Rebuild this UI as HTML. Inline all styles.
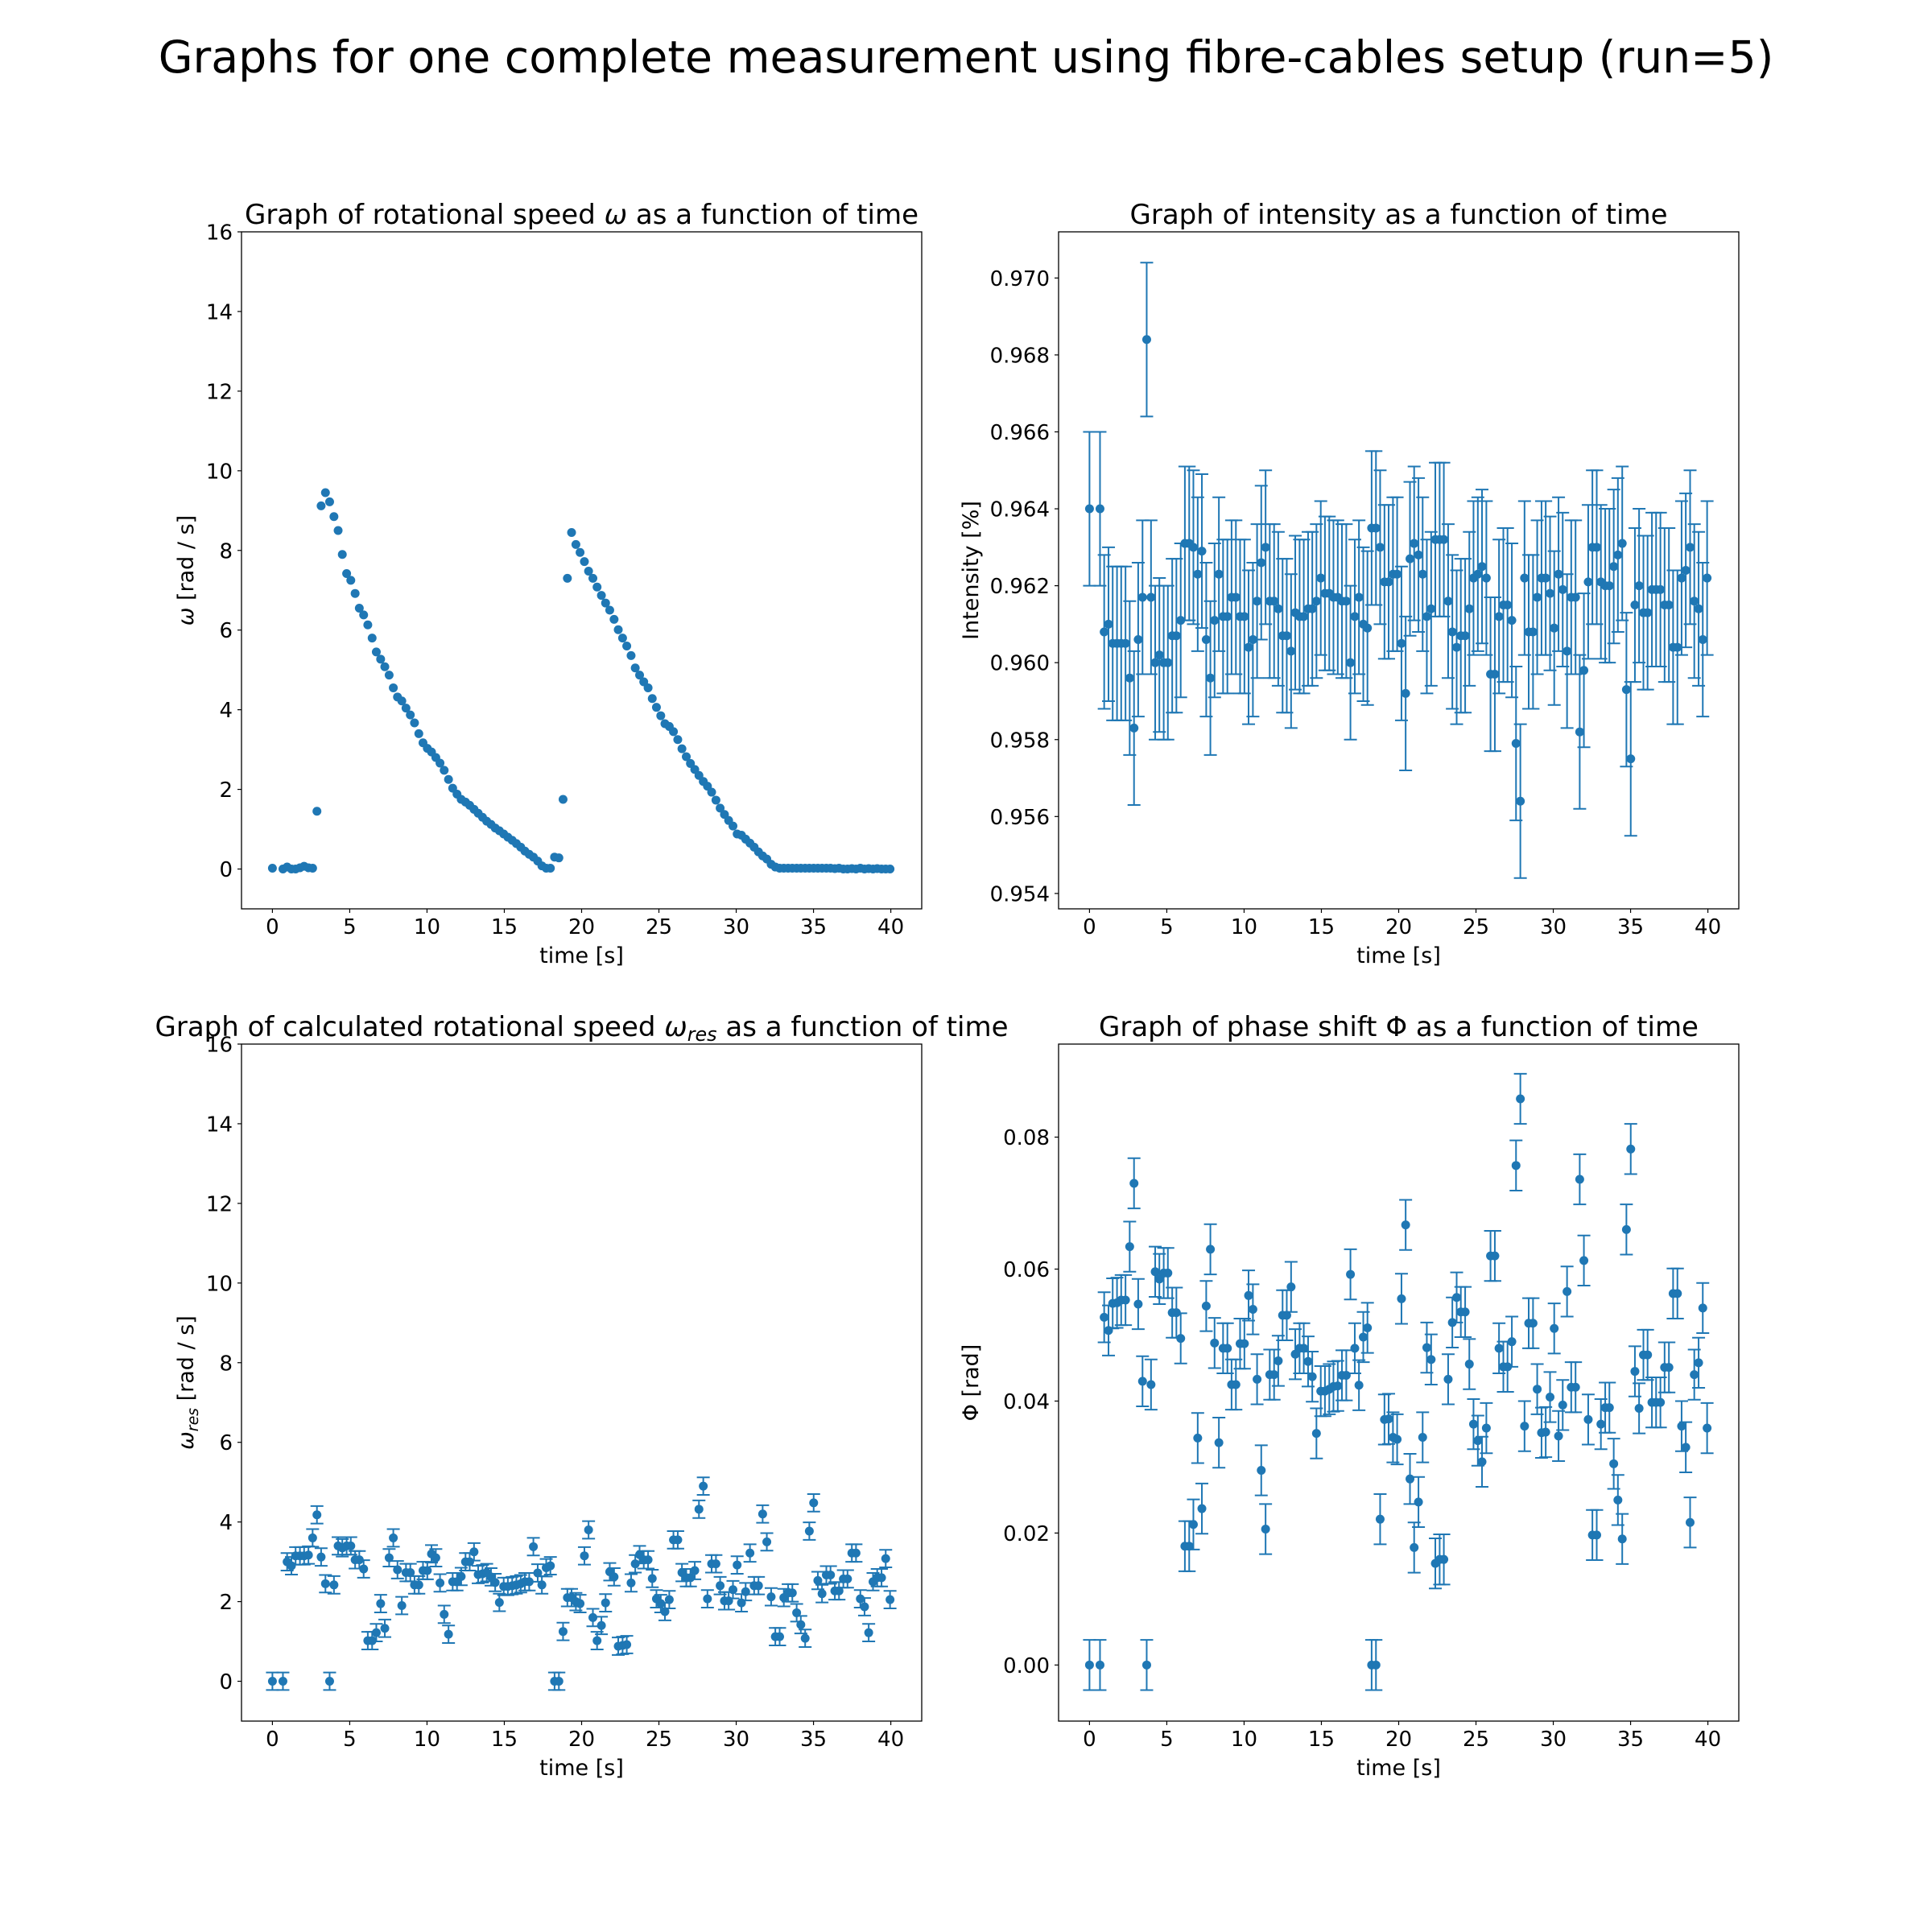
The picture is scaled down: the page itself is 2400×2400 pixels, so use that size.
<!DOCTYPE html>
<html><head><meta charset="utf-8"><style>
html,body{margin:0;padding:0;background:#fff}
svg{display:block;font-family:"DejaVu Sans","Liberation Sans",sans-serif}
</style></head><body>
<svg id="fig" width="2400" height="2400" viewBox="0 0 2400 2400" xmlns="http://www.w3.org/2000/svg">
<rect width="2400" height="2400" fill="#fff"/>
<text x="1200" y="90" text-anchor="middle" font-size="55.3">Graphs for one complete measurement using fibre-cables setup (run=5)</text>
</svg>
<script>
const times=[0,0.68,0.95,1.23,1.50,1.78,2.05,2.33,2.60,2.88,3.15,3.43,3.70,3.98,4.25,4.52,4.80,5.07,5.35,5.62,5.90,6.17,6.45,6.72,7.00,7.27,7.55,7.82,8.09,8.37,8.64,8.92,9.19,9.47,9.74,10.02,10.29,10.57,10.84,11.11,11.39,11.66,11.94,12.21,12.49,12.76,13.04,13.31,13.59,13.86,14.14,14.41,14.68,14.96,15.23,15.51,15.78,16.06,16.33,16.61,16.88,17.16,17.43,17.71,17.98,18.25,18.53,18.80,19.08,19.35,19.63,19.90,20.18,20.45,20.73,21.00,21.28,21.55,21.82,22.10,22.37,22.65,22.92,23.20,23.47,23.75,24.02,24.30,24.57,24.84,25.12,25.39,25.67,25.94,26.22,26.49,26.77,27.04,27.32,27.59,27.87,28.14,28.41,28.69,28.96,29.24,29.51,29.79,30.06,30.34,30.61,30.89,31.16,31.44,31.71,31.98,32.26,32.53,32.81,33.08,33.36,33.63,33.91,34.18,34.46,34.73,35.01,35.28,35.55,35.83,36.10,36.38,36.65,36.93,37.20,37.48,37.75,38.03,38.30,38.57,38.85,39.12,39.40,39.67,39.95];
const omega=[0.02,0.0,0.05,0.0,0.0,0.03,0.07,0.03,0.02,1.45,
9.12,9.45,9.22,8.85,8.5,7.9,7.42,7.25,6.92,6.55,
6.38,6.13,5.8,5.45,5.27,5.08,4.87,4.55,4.32,4.22,
4.04,3.87,3.67,3.4,3.17,3.03,2.94,2.8,2.66,2.48,
2.25,2.03,1.88,1.75,1.68,1.6,1.5,1.4,1.3,1.2,
1.12,1.03,0.96,0.88,0.8,0.72,0.64,0.55,0.45,0.37,
0.3,0.2,0.08,0.02,0.02,0.3,0.28,1.75,7.3,8.45,
8.15,7.95,7.72,7.48,7.3,7.08,6.87,6.68,6.5,6.27,
6.01,5.8,5.6,5.36,5.05,4.87,4.7,4.55,4.28,4.06,
3.85,3.65,3.58,3.45,3.25,3.02,2.82,2.65,2.5,2.35,
2.2,2.08,1.93,1.73,1.53,1.37,1.22,1.08,0.88,0.85,
0.75,0.65,0.55,0.43,0.33,0.25,0.12,0.05,0.02,0.02,
0.02,0.02,0.02,0.02,0.02,0.02,0.02,0.02,0.02,0.02,
0.02,0.01,0.02,0.0,0.0,0.01,0.0,0.02,0.0,0.01,
0.0,0.01,0.0,0.0,0.0];
const intensity=[0.9640,0.9640,0.9608,0.9610,0.9605,0.9605,0.9605,0.9605,0.9596,0.9583,
0.9606,0.9617,0.9684,0.9617,0.9600,0.9602,0.9600,0.9600,0.9607,0.9607,
0.9611,0.9631,0.9631,0.9630,0.9623,0.9629,0.9606,0.9596,0.9611,0.9623,
0.9612,0.9612,0.9617,0.9617,0.9612,0.9612,0.9604,0.9606,0.9616,0.9626,
0.9630,0.9616,0.9616,0.9614,0.9607,0.9607,0.9603,0.9613,0.9612,0.9612,
0.9614,0.9614,0.9616,0.9622,0.9618,0.9618,0.9617,0.9617,0.9616,0.9616,
0.9600,0.9612,0.9617,0.9610,0.9609,0.9635,0.9635,0.9630,0.9621,0.9621,
0.9623,0.9623,0.9605,0.9592,0.9627,0.9631,0.9628,0.9623,0.9612,0.9614,
0.9632,0.9632,0.9632,0.9616,0.9608,0.9604,0.9607,0.9607,0.9614,0.9622,
0.9623,0.9625,0.9622,0.9597,0.9597,0.9612,0.9615,0.9615,0.9611,0.9579,
0.9564,0.9622,0.9608,0.9608,0.9617,0.9622,0.9622,0.9618,0.9609,0.9623,
0.9619,0.9603,0.9617,0.9617,0.9582,0.9598,0.9621,0.9630,0.9630,0.9621,
0.9620,0.9620,0.9625,0.9628,0.9631,0.9593,0.9575,0.9615,0.9620,0.9613,
0.9613,0.9619,0.9619,0.9619,0.9615,0.9615,0.9604,0.9604,0.9622,0.9624,
0.9630,0.9616,0.9614,0.9606,0.9622];
const omegaRes=[0,0,3.0,2.9,3.15,3.15,3.15,3.17,3.6,4.18,
3.12,2.45,0,2.42,3.4,3.35,3.4,3.4,3.05,3.05,
2.82,1.02,1.02,1.22,1.95,1.33,3.1,3.6,2.8,1.9,
2.73,2.73,2.42,2.42,2.78,2.78,3.2,3.1,2.47,1.68,
1.18,2.5,2.5,2.63,3.0,3.0,3.25,2.68,2.7,2.73,
2.62,2.48,1.98,2.38,2.38,2.4,2.42,2.45,2.5,2.5,
3.38,2.72,2.42,2.85,2.9,0,0,1.25,2.1,2.1,
2.0,1.95,3.15,3.8,1.6,1.02,1.4,1.97,2.75,2.62,
0.88,0.9,0.92,2.47,2.95,3.18,3.05,3.05,2.58,2.07,
1.95,1.75,2.05,3.55,3.55,2.73,2.6,2.6,2.78,4.32,
4.9,2.07,2.95,2.95,2.4,2.02,2.02,2.3,2.92,1.97,
2.25,3.22,2.4,2.4,4.2,3.5,2.12,1.12,1.12,2.1,
2.22,2.22,1.72,1.42,1.08,3.77,4.48,2.53,2.2,2.67,
2.67,2.27,2.27,2.57,2.57,3.22,3.22,2.07,1.87,1.22,
2.5,2.6,2.6,3.08,2.05];
const phi=[0,0,.0527,.0507,.0548,.0549,.0553,.0553,.0634,.0730,
.0547,.0430,0,.0425,.0596,.0585,.0594,.0594,.0534,.0534,
.0495,.018,.018,.0213,.0344,.0237,.0544,.0630,.0488,.0337,
.0480,.0480,.0425,.0425,.0487,.0487,.0560,.0539,.0433,.0295,
.0206,.0440,.0440,.0461,.0530,.0530,.0573,.0471,.0480,.0480,
.0460,.0437,.0351,.0415,.0415,.0418,.0422,.0423,.0439,.0439,
.0592,.0480,.0424,.0497,.0511,0,0,.0221,.0372,.0373,
.0345,.0342,.0555,.0667,.0282,.0178,.0247,.0345,.0481,.0463,
.0154,.0160,.0160,.0433,.0519,.0557,.0535,.0535,.0456,.0365,
.0340,.0308,.0359,.0620,.0620,.0480,.0452,.0452,.0490,.0757,
.0858,.0362,.0518,.0518,.0418,.0352,.0353,.0406,.0510,.0347,
.0394,.0566,.0421,.0421,.0736,.0613,.0372,.0197,.0197,.0365,
.0390,.0390,.0305,.0250,.0191,.0660,.0782,.0445,.0389,.0470,
.0470,.0398,.0398,.0398,.0451,.0451,.0563,.0563,.0362,.0330,
.0216,.0440,.0458,.0541,.0359];
const intensityErr=0.002;
const omegaResErr=0.22;
const phiErr=0.0038;
const xTicks=[0,5,10,15,20,25,30,35,40];
const omegaTicks=[0,2,4,6,8,10,12,14,16];
const intensityTicks=[0.954,0.956,0.958,0.960,0.962,0.964,0.966,0.968,0.970];
const phiTicks=[0,0.02,0.04,0.06,0.08];

const NS='http://www.w3.org/2000/svg';
const fig=document.getElementById('fig');
const C='#1f77b4';
function mk(tag,attrs,parent){const e=document.createElementNS(NS,tag);for(const k in attrs)e.setAttribute(k,attrs[k]);(parent||fig).appendChild(e);return e;}

function panel(p){
  const g=mk('g',{});
  
  
  const sx=v=>p.L+(v-(-2))/(44)*(p.R-p.L);
  const sy=v=>p.B-(v-p.ymin)/(p.ymax-p.ymin)*(p.B-p.T);
  const t=mk('text',{x:(p.L+p.R)/2,y:p.T-10,'text-anchor':'middle','font-size':34},g);
  
  
  t.innerHTML=p.title;
  xTicks.forEach(v=>{
    const x=sx(v);
    mk('line',{x1:x,x2:x,y1:p.B,y2:p.B+5,stroke:'#000','stroke-width':1.2},g);
    const tl=mk('text',{x:x,y:p.B+31,'text-anchor':'middle','font-size':26},g);
    
    
    tl.textContent=String(v);
  });
  p.yTicks.forEach(v=>{
    const y=sy(v);
    mk('line',{x1:p.L-5,x2:p.L,y1:y,y2:y,stroke:'#000','stroke-width':1.2},g);
    const tl=mk('text',{x:p.L-11,y:y+9.5,'text-anchor':'end','font-size':26},g);
    
    
    tl.textContent=p.fmt(v);
  });
  const xl=mk('text',{x:(p.L+p.R)/2,y:p.B+67,'text-anchor':'middle','font-size':27},g);
  
  
  xl.textContent='time [s]';
  const yc=(p.T+p.B)/2;
  const yl=mk('text',{x:p.ylx,y:yc,'text-anchor':'middle','font-size':27,transform:`rotate(-90 ${p.ylx} ${yc})`},g);
  
  
  yl.innerHTML=p.ylabel;
  const dg=mk('g',{},g);
  
  
  for(let i=0;i<p.ys.length;i++){
    const x=sx(times[i]),y=sy(p.ys[i]);
    if(p.err){
      const y1=sy(p.ys[i]+p.err),y2=sy(p.ys[i]-p.err);
      const eb=mk('path',{d:`M${x},${y1}V${y2}M${x-8},${y1}H${x+8}M${x-8},${y2}H${x+8}`,stroke:C,'stroke-width':2,fill:'none'},dg);
      
      
    }
    const c=mk('circle',{cx:x,cy:y,r:5.5,fill:C},dg);
    
    
  }
  const fr=mk('rect',{x:p.L,y:p.T,width:p.R-p.L,height:p.B-p.T,fill:'none',stroke:'#000','stroke-width':1.3},g);
  
  
}
const w='<tspan font-style="italic">ω</tspan>';
const wres='<tspan font-style="italic">ω</tspan><tspan font-style="italic" font-size="0.7em" dy="6">res</tspan><tspan dy="-6"> </tspan>';
panel({name:'omega-panel',L:300,R:1145,T:288,B:1129,ymin:-1,ymax:16,yTicks:omegaTicks,fmt:v=>String(v),ys:omega,err:0,
  title:'Graph of rotational speed '+w+' as a function of time',ylabel:w+' [rad / s]',ylx:240});
panel({name:'intensity-panel',L:1315,R:2160,T:288,B:1129,ymin:0.9536,ymax:0.9712,yTicks:intensityTicks,fmt:v=>v.toFixed(3),ys:intensity,err:intensityErr,
  title:'Graph of intensity as a function of time',ylabel:'Intensity [%]',ylx:1215});
panel({name:'omega-res-panel',L:300,R:1145,T:1297,B:2138,ymin:-1,ymax:16,yTicks:omegaTicks,fmt:v=>String(v),ys:omegaRes,err:omegaResErr,
  title:'Graph of calculated rotational speed '+wres+'as a function of time',ylabel:wres+'[rad / s]',ylx:240});
panel({name:'phase-shift-panel',L:1315,R:2160,T:1297,B:2138,ymin:-0.0085,ymax:0.0941,yTicks:phiTicks,fmt:v=>v.toFixed(2),ys:phi,err:phiErr,
  title:'Graph of phase shift Φ as a function of time',ylabel:'Φ [rad]',ylx:1215});
</script>
</body></html>
